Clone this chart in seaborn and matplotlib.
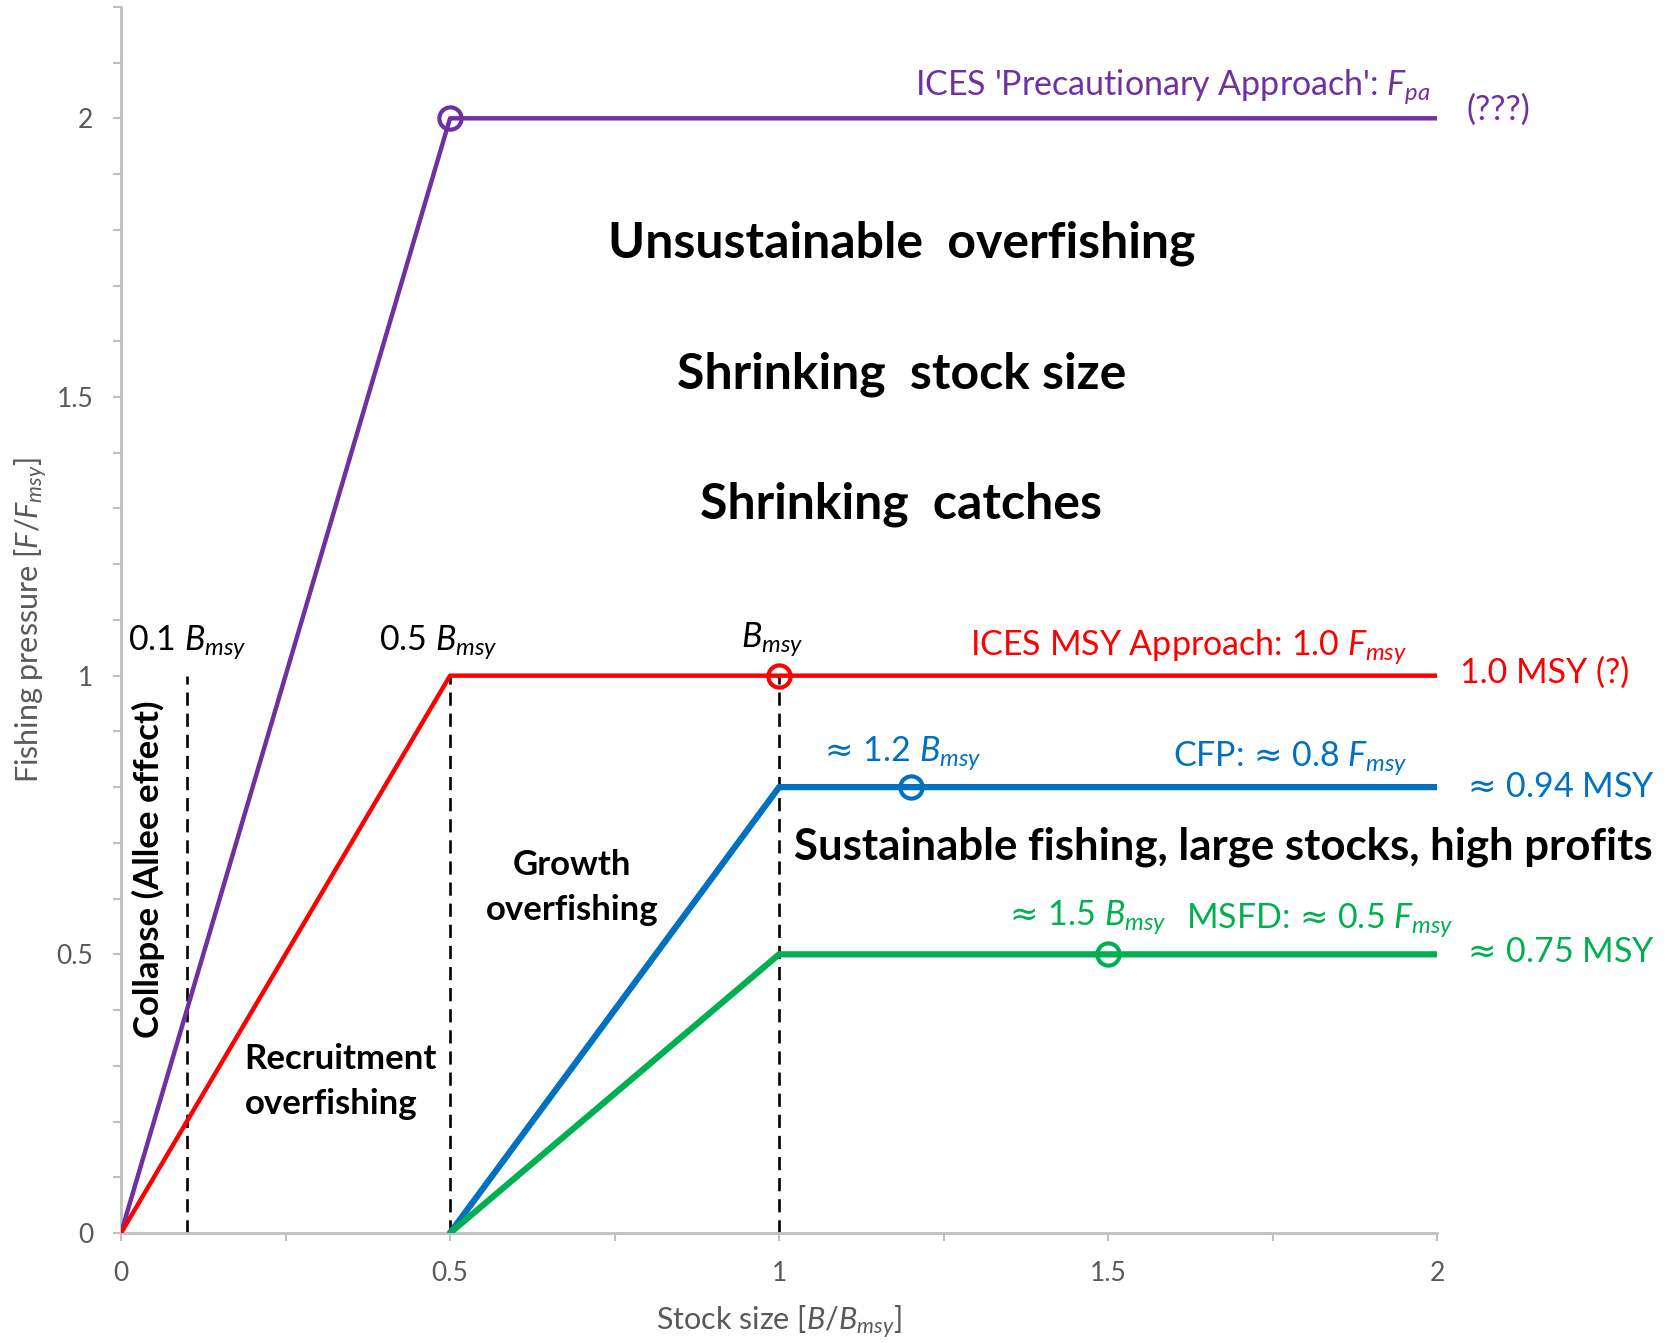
import pandas as pd
import matplotlib
matplotlib.use("Agg")
import matplotlib.pyplot as plt
import seaborn as sns
from matplotlib.ticker import MultipleLocator, FuncFormatter

# harvest control rules: stock size B/Bmsy vs fishing pressure F/Fmsy
B_PA = [0, 0.5, 2]
F_PA = [0, 2, 2]
B_MSY = [0, 0.5, 2]
F_MSY = [0, 1, 1]
B_CFP = [0.5, 1, 2]
F_CFP = [0, 0.8, 0.8]
B_MSFD = [0.5, 1, 2]
F_MSFD = [0, 0.5, 0.5]

# target points (open circles)
TARGET_B = [0.5, 1.0, 1.2, 1.5]
TARGET_F = [2, 1, 0.8, 0.5]
RULES = ["pa", "msy", "cfp", "msfd"]

# reference biomass limits (dashed)
LIMIT_B = [0.1, 0.5, 1.0]
LIMIT_TOP = 1.0

COLORS = {"pa": "#7030A0", "msy": "#FF0000", "cfp": "#0070C0", "msfd": "#00B050"}
WIDTHS = {"pa": 3.2, "msy": 3.2, "cfp": 4.5, "msfd": 4.5}
GREY = "#BFBFBF"
TXT_GREY = "#595959"

sns.set_style("white")
plt.rcParams['font.family'] = ['Lato', 'DejaVu Sans']
plt.rcParams['mathtext.fontset'] = 'custom'
plt.rcParams['mathtext.rm'] = 'Lato'
plt.rcParams['mathtext.it'] = 'Lato:italic'
plt.rcParams['mathtext.bf'] = 'Lato:bold'
plt.rcParams['mathtext.sf'] = 'DejaVu Sans'  # only used for the "approx" sign

# \! cancels the relation padding mathtext puts round \approx
APPROX = r"$\!\mathsf{\approx}\!$"

curves = pd.concat([
    pd.DataFrame({"B": B_PA, "F": F_PA, "rule": "pa"}),
    pd.DataFrame({"B": B_MSY, "F": F_MSY, "rule": "msy"}),
    pd.DataFrame({"B": B_CFP, "F": F_CFP, "rule": "cfp"}),
    pd.DataFrame({"B": B_MSFD, "F": F_MSFD, "rule": "msfd"}),
], ignore_index=True)
targets = pd.DataFrame({"B": TARGET_B, "F": TARGET_F, "rule": RULES})

fig = plt.figure(figsize=(16.67, 13.43), dpi=100)
ax = fig.add_axes([0.0726, 0.0819, 0.7895, 0.913])

# dashed limits first so curves sit on top
for b in LIMIT_B:
    ax.plot([b, b], [0, LIMIT_TOP], color="black", lw=1.9, dashes=(5, 3), zorder=2)

for rule in RULES:
    sub = curves[curves["rule"] == rule]
    sns.lineplot(data=sub, x="B", y="F", color=COLORS[rule], lw=WIDTHS[rule],
                 sort=False, ax=ax, zorder=3, legend=False)
    t = targets[targets["rule"] == rule]
    ax.plot(t["B"], t["F"], ls="none", marker="o", ms=16, mfc="none",
            mec=COLORS[rule], mew=3, zorder=4)

ax.set_xlim(0, 2)
ax.set_ylim(0, 2.2)
ax.xaxis.set_major_locator(MultipleLocator(0.5))
ax.xaxis.set_minor_locator(MultipleLocator(0.25))
ax.yaxis.set_major_locator(MultipleLocator(0.5))
ax.yaxis.set_minor_locator(MultipleLocator(0.1))
fmt = FuncFormatter(lambda v, p: f"{v:g}")
ax.xaxis.set_major_formatter(fmt)
ax.yaxis.set_major_formatter(fmt)
ax.tick_params(which="both", direction="out", color=GREY, width=1.5, length=6,
               labelsize=19, labelcolor=TXT_GREY, pad=14)
ax.tick_params(which="both", bottom=True, left=True)
for side in ["top", "right"]:
    ax.spines[side].set_visible(False)
for side in ["left", "bottom"]:
    ax.spines[side].set_color(GREY)
    ax.spines[side].set_linewidth(2)

ax.set_xlabel(r"Stock size [$B$/$B_{msy}$]", fontsize=22, color=TXT_GREY)
ax.set_ylabel(r"Fishing pressure [$F$/$F_{msy}$]", fontsize=22, color=TXT_GREY)
ax.yaxis.set_label_coords(-0.054, 0.5)
ax.xaxis.set_label_coords(0.5, -0.058)

lab = dict(fontsize=24.5, clip_on=False, va="center")
ax.text(1.99, 2.055, r"ICES 'Precautionary Approach': $F_{pa}$", color=COLORS["pa"], ha="right", **lab)
ax.text(2.045, 2.015, "(???)", color=COLORS["pa"], ha="left", **lab)

ax.text(0.01, 1.058, r"0.1 $B_{msy}$", color="black", ha="left", **lab)
ax.text(0.392, 1.058, r"0.5 $B_{msy}$", color="black", ha="left", **lab)
ax.text(0.99, 1.065, r"$B_{msy}$", color="black", ha="center", **lab)
ax.text(1.955, 1.05, r"ICES MSY Approach: 1.0 $F_{msy}$", color=COLORS["msy"], ha="right", **lab)
ax.text(2.035, 1.005, "1.0 MSY (?)", color=COLORS["msy"], ha="left", **lab)

ax.text(1.068, 0.86, APPROX + r" 1.2 $B_{msy}$", color=COLORS["cfp"], ha="left", **lab)
ax.text(1.955, 0.85, "CFP: " + APPROX + r" 0.8 $F_{msy}$", color=COLORS["cfp"], ha="right", **lab)
ax.text(2.045, 0.80, APPROX + " 0.94 MSY", color=COLORS["cfp"], ha="left", **lab)

ax.text(1.35, 0.565, APPROX + r" 1.5 $B_{msy}$", color=COLORS["msfd"], ha="left", **lab)
ax.text(2.025, 0.56, "MSFD: " + APPROX + r" 0.5 $F_{msy}$", color=COLORS["msfd"], ha="right", **lab)
ax.text(2.045, 0.505, APPROX + " 0.75 MSY", color=COLORS["msfd"], ha="left", **lab)

bold = dict(fontweight="bold", color="black", clip_on=False)
ax.text(1.186, 1.776, "Unsustainable  overfishing", fontsize=36, ha="center", va="center", **bold)
ax.text(1.186, 1.541, "Shrinking  stock size", fontsize=36, ha="center", va="center", **bold)
ax.text(1.186, 1.307, "Shrinking  catches", fontsize=36, ha="center", va="center", **bold)
ax.text(1.023, 0.693, "Sustainable fishing, large stocks, high profits", fontsize=31.5,
        ha="left", va="center", **bold)
ax.text(0.685, 0.62, "Growth\noverfishing", fontsize=25, ha="center", va="center",
        linespacing=1.5, **bold)
ax.text(0.188, 0.271, "Recruitment\noverfishing", fontsize=25, ha="left", va="center",
        multialignment="left", linespacing=1.5, **bold)
ax.text(0.042, 0.653, "Collapse (Allee effect)", fontsize=25, rotation=90,
        ha="center", va="center", **bold)

fig.savefig("out.png", dpi=100)
